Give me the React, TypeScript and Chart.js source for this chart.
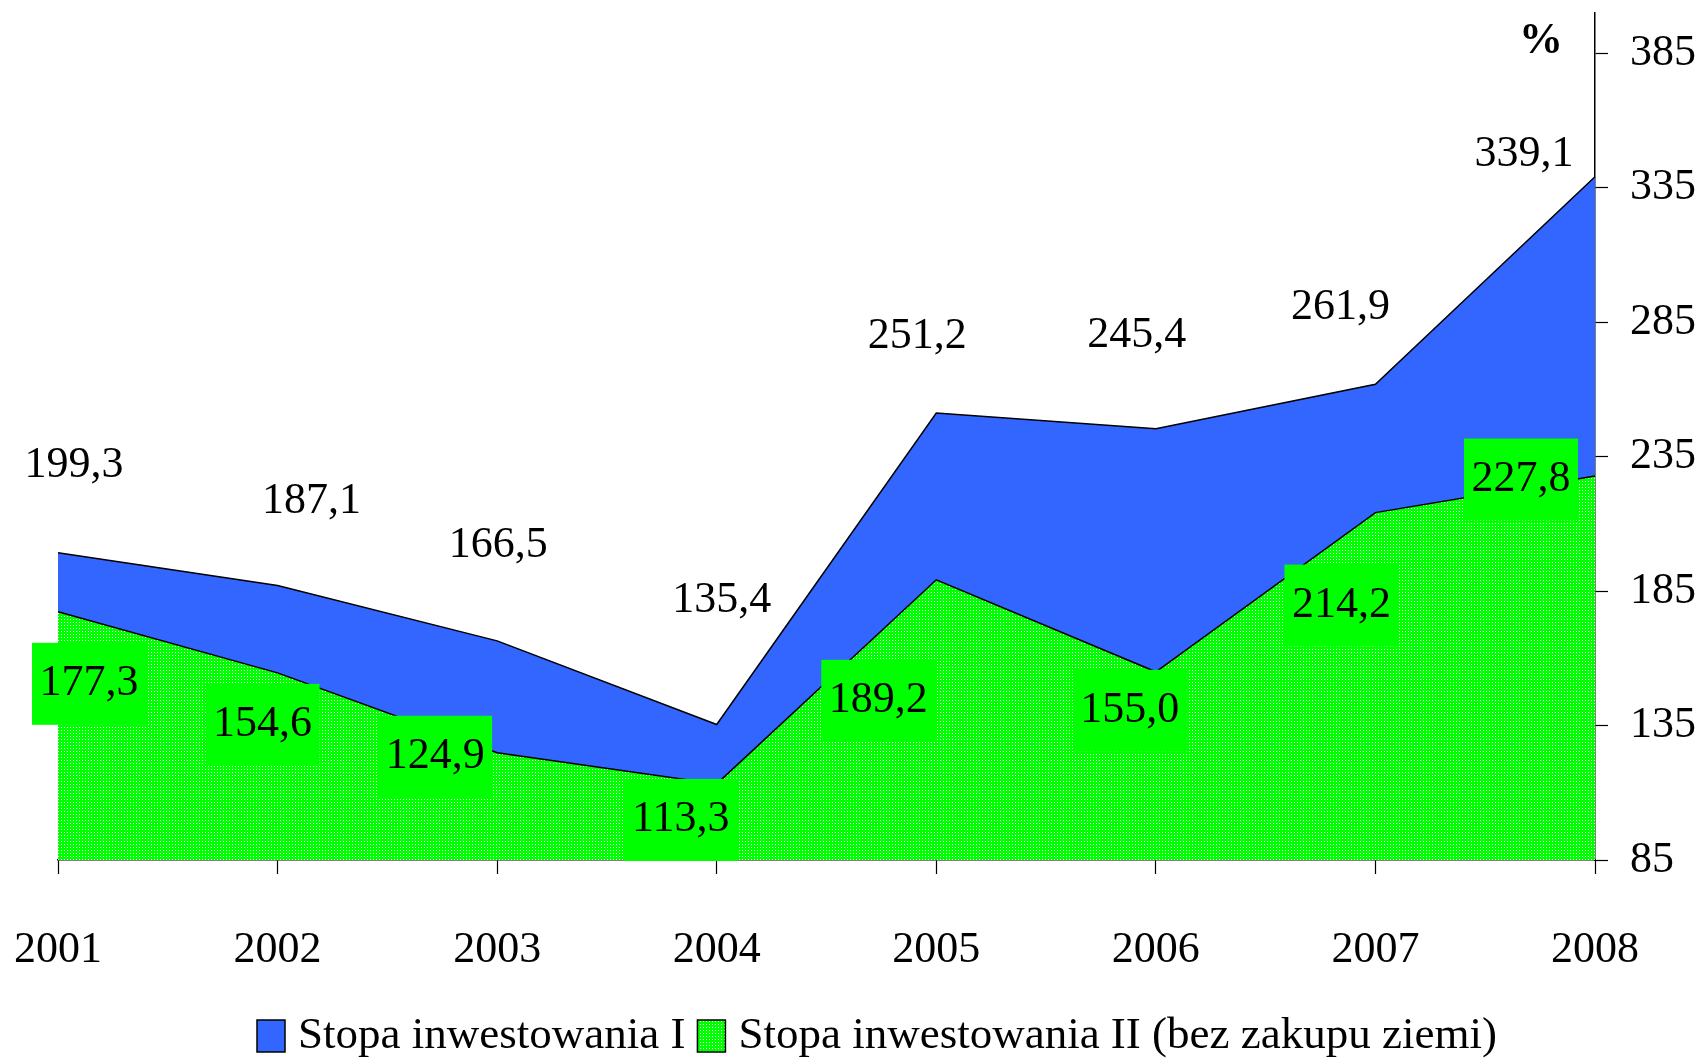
import React, { useEffect, useRef } from 'react';
import { Chart, registerables } from 'chart.js';

Chart.register(...registerables);

const years = ['2001', '2002', '2003', '2004', '2005', '2006', '2007', '2008'];
const rateI = [199.3, 187.1, 166.5, 135.4, 251.2, 245.4, 261.9, 339.1];
const rateII = [177.3, 154.6, 124.9, 113.3, 189.2, 155.0, 214.2, 227.8];
const yTicks = [85, 135, 185, 235, 285, 335, 385];
const seriesNames = ['Stopa inwestowania I', 'Stopa inwestowania II (bez zakupu ziemi)'];
const unitLabel = '%';

// label placement offsets in pixels, relative to each point
const labelOffsetsI = [[16, -87], [34, -84], [1, -95], [5, -124], [-19, -77], [-19, -93], [-35, -77], [-71, -22]];
const labelOffsetsII = [[31, 72], [-15, 52], [-62, 4], [-36, 36], [-58, 121], [-26, 39], [-34, 93], [-74, 3.5]];

const BLUE = '#3366FF';
const GREEN = '#00FF00';
const FONT = "'Liberation Serif', 'Times New Roman', serif";

const fmt = (v: number) => v.toFixed(1).replace('.', ',');

function makePattern(): CanvasPattern | string {
  const c = document.createElement('canvas');
  c.width = 3;
  c.height = 3;
  const g = c.getContext('2d');
  if (!g) return GREEN;
  g.fillStyle = GREEN;
  g.fillRect(0, 0, 3, 3);
  g.fillStyle = '#e8ffe8';
  g.fillRect(1, 1, 1, 1);
  const p = g.createPattern(c, 'repeat');
  return p || GREEN;
}

const zeroPadding = (scale: any) => {
  scale.paddingLeft = 0;
  scale.paddingRight = 0;
  scale.paddingTop = 0;
  scale.paddingBottom = 0;
};

export default function App() {
  const ref = useRef<HTMLCanvasElement | null>(null);

  useEffect(() => {
    document.body.style.margin = '0';
    const canvas = ref.current;
    if (!canvas) return;
    const pattern = makePattern();

    const labelsPlugin = {
      id: 'customLabels',
      afterDatasetsDraw(chart: any) {
        const ctx = chart.ctx;
        ctx.save();
        ctx.font = `44px ${FONT}`;
        ctx.textAlign = 'center';
        ctx.textBaseline = 'middle';
        const m0 = chart.getDatasetMeta(0);
        m0.data.forEach((pt: any, i: number) => {
          const [dx, dy] = labelOffsetsI[i];
          ctx.fillStyle = '#000';
          ctx.fillText(fmt(rateI[i]), pt.x + dx, pt.y + dy);
        });
        const m1 = chart.getDatasetMeta(1);
        m1.data.forEach((pt: any, i: number) => {
          const [dx, dy] = labelOffsetsII[i];
          const cx = pt.x + dx;
          const cy = pt.y + dy;
          ctx.fillStyle = GREEN;
          ctx.fillRect(cx - 57, cy - 41, 114, 82);
          ctx.fillStyle = '#000';
          ctx.fillText(fmt(rateII[i]), cx, cy);
        });
        ctx.restore();
      },
      afterDraw(chart: any) {
        const ctx = chart.ctx;
        ctx.save();
        // unit label
        ctx.font = `bold 44px ${FONT}`;
        ctx.textAlign = 'center';
        ctx.textBaseline = 'middle';
        ctx.fillStyle = '#000';
        ctx.fillText(unitLabel, 1541, 42);
        // legend
        ctx.font = `45px ${FONT}`;
        ctx.textAlign = 'left';
        const ly = 1036;
        let x = 257;
        const fills = [BLUE, pattern];
        seriesNames.forEach((name, i) => {
          ctx.fillStyle = fills[i] as any;
          ctx.fillRect(x, ly - 16, 28, 32);
          ctx.strokeStyle = '#000';
          ctx.lineWidth = 1.5;
          ctx.strokeRect(x, ly - 16, 28, 32);
          x += 28 + 13;
          ctx.fillStyle = '#000';
          ctx.fillText(name, x, ly);
          x += ctx.measureText(name).width + 12;
        });
        ctx.restore();
      },
    };

    const chart = new Chart(canvas, {
      type: 'line',
      data: {
        labels: years,
        datasets: [
          {
            label: seriesNames[0],
            data: rateI,
            backgroundColor: BLUE,
            borderColor: '#000',
            borderWidth: 1.5,
            fill: 'start',
            pointRadius: 0,
            tension: 0,
            order: 1,
          },
          {
            label: seriesNames[1],
            data: rateII,
            backgroundColor: pattern as any,
            borderColor: '#000',
            borderWidth: 1.5,
            fill: 'start',
            pointRadius: 0,
            tension: 0,
            order: 0,
          },
        ],
      },
      options: {
        responsive: false,
        animation: false,
        devicePixelRatio: 1,
        layout: { padding: { left: 58, top: 13, right: 0, bottom: 0 } },
        plugins: {
          legend: { display: false },
          tooltip: { enabled: false },
        },
        scales: {
          x: {
            type: 'category',
            offset: false,
            z: 1,
            grid: {
              display: true,
              drawOnChartArea: false,
              drawTicks: true,
              tickLength: 14,
              tickColor: '#000',
              tickWidth: 1.2,
            },
            border: { display: true, color: '#000', width: 1.5 },
            ticks: {
              color: '#000',
              font: { family: FONT, size: 44, lineHeight: 1.2 },
              padding: 50,
              maxRotation: 0,
              autoSkip: false,
            },
            afterFit(scale: any) {
              scale.height = 200;
              zeroPadding(scale);
            },
          },
          y: {
            type: 'linear',
            position: 'right',
            min: 85,
            max: 400,
            z: 1,
            grid: {
              display: true,
              drawOnChartArea: false,
              drawTicks: true,
              tickLength: 13,
              tickColor: '#000',
              tickWidth: 1.2,
            },
            border: { display: true, color: '#000', width: 1.5 },
            ticks: {
              color: '#000',
              font: { family: FONT, size: 44 },
              padding: 22,
              crossAlign: 'near',
              callback: (v: any) => String(v),
            },
            afterBuildTicks(scale: any) {
              scale.ticks = yTicks.map((v) => ({ value: v }));
            },
            afterFit(scale: any) {
              scale.width = 106;
              zeroPadding(scale);
            },
          },
        },
      },
      plugins: [labelsPlugin],
    });

    return () => chart.destroy();
  }, []);

  return (
    <div style={{ width: 1701, height: 1060, background: '#fff' }}>
      <canvas ref={ref} width={1701} height={1060} style={{ display: 'block' }} />
    </div>
  );
}
